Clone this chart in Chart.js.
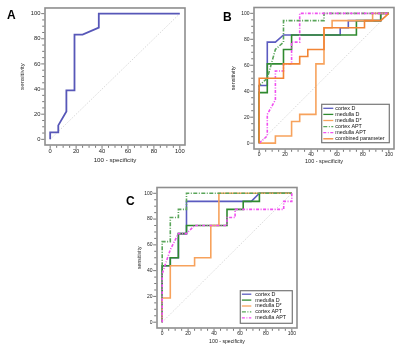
<!DOCTYPE html>
<html><head><meta charset="utf-8">
<script src="https://cdn.jsdelivr.net/npm/chart.js@4.4.0/dist/chart.umd.min.js"></script>
<style>
html,body{margin:0;padding:0;background:#fff;width:400px;height:349px;overflow:hidden}
canvas{position:absolute}
#cA{left:0;top:0}
#cB{left:200px;top:0}
#cC{left:100px;top:170px}
</style></head>
<body>
<canvas id="cA" width="200" height="175"></canvas>
<canvas id="cB" width="200" height="175"></canvas>
<canvas id="cC" width="220" height="179"></canvas>
<script>
// ---- tick labels ----
const TICK_LABELS = [0, 20, 40, 60, 80, 100];
const MINOR_TICKS = [0,5,10,15,20,25,30,35,40,45,50,55,60,65,70,75,80,85,90,95,100];
const DIAG_X = [0, 100];
const DIAG_Y = [0, 100];

// ---- Panel A ----
const A_X = [0, 0, 6.25, 6.25, 12.5, 12.5, 18.75, 18.75, 25, 37.5, 37.5, 100];
const A_Y = [0, 5.56, 5.56, 11.1, 22.2, 38.9, 38.9, 83.3, 83.3, 88.9, 100, 100];

// ---- Panel B ----
const B_LABELS = ['cortex D', 'medulla D', 'medulla D*', 'cortex APT', 'medulla APT', 'combined parameter'];
const B_CORTEX_D_X = [0, 0, 6.25, 6.25, 12.5, 18.75, 62.5, 62.5, 68.75, 68.75, 93.75, 93.75, 100];
const B_CORTEX_D_Y = [0, 44.4, 44.4, 77.8, 77.8, 83.3, 83.3, 88.9, 88.9, 94.4, 94.4, 100, 100];
const B_MEDULLA_D_X = [0, 0, 6.25, 6.25, 18.75, 18.75, 25, 25, 75, 75, 93.75, 93.75, 100];
const B_MEDULLA_D_Y = [0, 38.9, 38.9, 61.1, 61.1, 72.2, 72.2, 83.3, 83.3, 94.4, 94.4, 100, 100];
const B_MEDULLA_DS_X = [0, 12.5, 12.5, 25, 25, 31.25, 31.25, 43.75, 43.75, 50, 50, 56.25, 56.25, 87.5, 87.5, 100];
const B_MEDULLA_DS_Y = [0, 0, 5.56, 5.56, 16.7, 16.7, 22.2, 22.2, 61.1, 61.1, 88.9, 88.9, 94.4, 94.4, 100, 100];
const B_CORTEX_APT_X = [0, 0, 6.25, 12.5, 18.75, 18.75, 50, 50, 100];
const B_CORTEX_APT_Y = [0, 44.4, 50, 72.2, 77.8, 94.4, 94.4, 100, 100];
const B_MEDULLA_APT_X = [0, 6.25, 6.25, 12.5, 12.5, 18.75, 18.75, 25, 25, 31.25, 31.25, 100];
const B_MEDULLA_APT_Y = [0, 5.56, 22.2, 33.3, 55.6, 55.6, 61.1, 61.1, 77.8, 77.8, 100, 100];
const B_COMBINED_X = [0, 0, 18.75, 18.75, 31.25, 31.25, 37.5, 37.5, 50, 50, 81.25, 81.25, 93.75, 100];
const B_COMBINED_Y = [0, 50, 50, 61.1, 61.1, 66.7, 66.7, 72.2, 72.2, 88.9, 88.9, 94.4, 94.4, 100];

// ---- Panel C ----
const C_LABELS = ['cortex D', 'medulla D', 'medulla D*', 'cortex APT', 'medulla APT'];
const C_CORTEX_D_X = [0, 0, 6.25, 6.25, 12.5, 12.5, 18.75, 18.75, 68.75, 75, 100];
const C_CORTEX_D_Y = [0, 43.75, 43.75, 50, 50, 68.75, 68.75, 93.75, 93.75, 100, 100];
const C_MEDULLA_D_X = [0, 0, 6.25, 6.25, 12.5, 12.5, 18.75, 18.75, 50, 50, 62.5, 62.5, 75, 75, 100];
const C_MEDULLA_D_Y = [0, 43.75, 43.75, 50, 50, 68.75, 68.75, 75, 75, 87.5, 87.5, 93.75, 93.75, 100, 100];
const C_MEDULLA_DS_X = [0, 0, 6.25, 6.25, 25, 25, 37.5, 37.5, 43.75, 43.75, 100];
const C_MEDULLA_DS_Y = [0, 18.75, 18.75, 43.75, 43.75, 50, 50, 75, 75, 100, 100];
const C_CORTEX_APT_X = [0, 0, 6.25, 6.25, 12.5, 12.5, 18.75, 18.75, 100];
const C_CORTEX_APT_Y = [0, 62.5, 62.5, 81.25, 81.25, 87.5, 87.5, 100, 100];
const C_MEDULLA_APT_X = [0, 0, 6.25, 12.5, 18.75, 25, 50, 50, 56.25, 56.25, 93.75, 93.75, 100, 100];
const C_MEDULLA_APT_Y = [0, 37.5, 56.25, 68.75, 68.75, 75, 75, 81.25, 81.25, 87.5, 87.5, 93.75, 93.75, 100];

const FONT = "'Liberation Sans', Arial, sans-serif";
Chart.defaults.font.family = FONT;
Chart.defaults.color = '#222';

const STYLE = {
  'cortex D':           {color:'#5b5bc0', dash:[]},
  'medulla D':          {color:'#2f8a2f', dash:[]},
  'medulla D*':         {color:'#f7a25c', dash:[]},
  'cortex APT':         {color:'#5aa55a', dash:[4,1.5,1,1.5]},
  'medulla APT':        {color:'#f050f0', dash:[3,1.5,1,1.5]},
  'combined parameter': {color:'#f28535', dash:[]}
};

function pts(xs, ys){ return xs.map((x,i)=>({x:x, y:ys[i]})); }

function diagSet(){
  return {label:'__diag', data: pts(DIAG_X, DIAG_Y), borderColor:'#cfcfcf', borderWidth:0.8,
          borderDash:[1.5,1.5], showLine:true, pointRadius:0, order:100, fill:false};
}
function series(label, xs, ys, idx, lw){
  const s = STYLE[label] || {color:'#5757b8', dash:[]};
  return {label:label, data: pts(xs, ys), borderColor:s.color, backgroundColor:s.color,
          borderWidth:lw, borderDash:s.dash, showLine:true, pointRadius:0, tension:0,
          order: 50-idx, fill:false};
}

const rocPlugin = {
  id:'roc',
  afterDraw(chart){
    const o = chart.options.plugins.roc;
    const {ctx, chartArea:a, scales:{x,y}} = chart;
    ctx.save();
    ctx.strokeStyle = '#8e8e8e'; ctx.lineWidth = 1.6;
    ctx.strokeRect(a.left, a.top, a.right-a.left, a.bottom-a.top);
    ctx.strokeStyle = '#555'; ctx.lineWidth = 0.8;
    MINOR_TICKS.forEach(v=>{
      const len = (v % 20 === 0) ? 3 : 2;
      const px = x.getPixelForValue(v);
      ctx.beginPath(); ctx.moveTo(px, a.bottom+0.8); ctx.lineTo(px, a.bottom+0.8+len); ctx.stroke();
      const py = y.getPixelForValue(v);
      ctx.beginPath(); ctx.moveTo(a.left-0.8, py); ctx.lineTo(a.left-0.8-len, py); ctx.stroke();
    });
    if (o.legend){
      const L = o.legend;
      const items = chart.data.datasets.filter(d=>d.label!=='__diag');
      const bx = a.right - L.ri - L.w, by = a.bottom - L.bi - L.h;
      ctx.fillStyle = '#fff'; ctx.fillRect(bx, by, L.w, L.h);
      ctx.strokeStyle = '#777'; ctx.lineWidth = 1.2; ctx.setLineDash([]);
      ctx.strokeRect(bx, by, L.w, L.h);
      ctx.font = L.fs + 'px ' + FONT; ctx.textBaseline = 'middle'; ctx.textAlign = 'left';
      items.forEach((d,i)=>{
        const yy = by + L.r0 + i*L.dy;
        ctx.strokeStyle = d.borderColor; ctx.lineWidth = 1.3; ctx.setLineDash(d.borderDash||[]);
        ctx.beginPath(); ctx.moveTo(bx+L.s0, yy); ctx.lineTo(bx+L.s1, yy); ctx.stroke();
        ctx.setLineDash([]);
        ctx.fillStyle = '#111'; ctx.fillText(d.label, bx+L.tx, yy);
      });
    }
    ctx.font = 'bold 12px ' + FONT; ctx.fillStyle = '#000';
    ctx.textAlign = 'left'; ctx.textBaseline = 'alphabetic';
    ctx.fillText(o.letter, o.lx, o.ly);
    ctx.restore();
  }
};

function makeChart(id, datasets, p){
  const axis = (which) => ({
    type:'linear',
    min: which==='x' ? -4 : -4.5,
    max: which==='x' ? 104 : 104.5,
    afterBuildTicks: s => { s.ticks = TICK_LABELS.map(v=>({value:v})); },
    afterFit: s => { if (which==='x') s.height = p.xh; else s.width = p.yw; },
    grid:{display:false, drawTicks:false},
    border:{display:false},
    ticks:{font:{size:p.tf}, color:'#222', padding: which==='x' ? p.xtp : p.ytp,
           maxRotation:0, autoSkip:false},
    title:{display:true, text: which==='x' ? '100 - specificity' : 'sensitivity',
           font:{size:p.ttf}, color:'#222',
           padding: which==='x' ? {top:0, bottom:p.xtpad} : {top:p.ytpad, bottom:0}}
  });
  return new Chart(document.getElementById(id), {
    type:'scatter',
    data:{datasets: datasets},
    options:{
      responsive:false, animation:false, events:[],
      layout:{padding:{left:0, top:p.top, right:p.right, bottom:0}},
      scales:{x: axis('x'), y: axis('y')},
      plugins:{legend:{display:false}, tooltip:{enabled:false},
               roc:{letter:p.letter, lx:p.lx, ly:p.ly, legend:p.legend}}
    },
    plugins:[rocPlugin]
  });
}

// Panel A
makeChart('cA', [diagSet(), series('A', A_X, A_Y, 0, 1.8)], {
  top:5, right:15, yw:45, xh:30, tf:5.8, ttf:6.2, xtp:2.5, ytp:4.5,
  ytpad:19, xtpad:11.3, letter:'A', lx:7, ly:18.5, legend:null
});

// Panel B
const bData = [
  [B_CORTEX_D_X, B_CORTEX_D_Y], [B_MEDULLA_D_X, B_MEDULLA_D_Y], [B_MEDULLA_DS_X, B_MEDULLA_DS_Y],
  [B_CORTEX_APT_X, B_CORTEX_APT_Y], [B_MEDULLA_APT_X, B_MEDULLA_APT_Y], [B_COMBINED_X, B_COMBINED_Y]
];
makeChart('cB', [diagSet()].concat(B_LABELS.map((l,i)=>series(l, bData[i][0], bData[i][1], i, 1.6))), {
  top:6.5, right:6, yw:54, xh:26, tf:5, ttf:5.5, xtp:2.5, ytp:4.5,
  ytpad:30, xtpad:10, letter:'B', lx:23, ly:20.7,
  legend:{ri:4.7, bi:6.3, w:67.6, h:38.4, r0:4, dy:6.1, s0:1.6, s1:11.6, tx:13.5, fs:5.4}
});

// Panel C
const cData = [
  [C_CORTEX_D_X, C_CORTEX_D_Y], [C_MEDULLA_D_X, C_MEDULLA_D_Y], [C_MEDULLA_DS_X, C_MEDULLA_DS_Y],
  [C_CORTEX_APT_X, C_CORTEX_APT_Y], [C_MEDULLA_APT_X, C_MEDULLA_APT_Y]
];
makeChart('cC', [diagSet()].concat(C_LABELS.map((l,i)=>series(l, cData[i][0], cData[i][1], i, 1.6))), {
  top:17.5, right:23, yw:57, xh:21, tf:5, ttf:5.2, xtp:2.5, ytp:4.5,
  ytpad:36.2, xtpad:4.2, letter:'C', lx:26, ly:35,
  legend:{ri:4.7, bi:4.7, w:52, h:32.6, r0:3.5, dy:5.9, s0:1.6, s1:11, tx:15, fs:5.4}
});
</script>
</body></html>
